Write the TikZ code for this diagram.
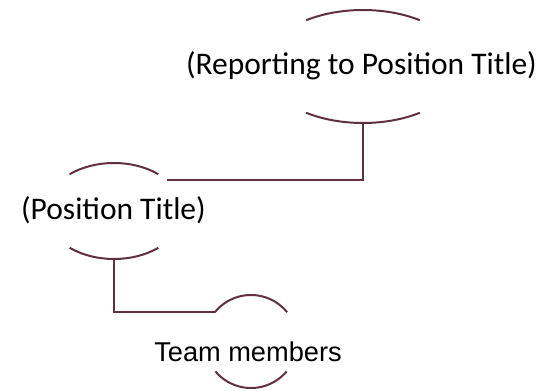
\documentclass[tikz,border=0pt]{standalone}
\usepackage{fontspec}
\setmainfont{Carlito}
\newfontfamily\arialfont{Liberation Sans}
\usepackage{xcolor}
\usetikzlibrary{shapes.geometric}
\definecolor{chartline}{RGB}{96,48,64}

\begin{document}
\begin{tikzpicture}[x=0.75pt,y=-0.75pt]
  \tikzstyle{chart line}=[draw=chartline, line width=1.5pt]
  \tikzstyle{title text}=[font=\fontsize{23.6}{28}\selectfont, inner sep=0pt]
  \tikzstyle{member text}=[font=\arialfont\fontsize{20.4}{24}\selectfont, inner sep=0pt]
  \tikzstyle{oval}=[ellipse, draw=none, inner sep=0pt]

  \useasboundingbox (0,0) rectangle (545,391);

  % ovals (only their top and bottom arcs are seen)
  \node [oval, minimum width=148.5pt, minimum height=84.75pt] (rptoval) at (363,66.5) {};
  \node [oval, minimum width=103.5pt, minimum height=72pt] (posoval) at (114,211) {};
  \node [oval, minimum width=69.75pt, minimum height=69.75pt] (teamoval) at (251,341.5) {};

  \draw [chart line] ([shift={(235:99 and 56.5)}]rptoval.center) arc[start angle=235, end angle=305, x radius=99, y radius=56.5];
  \draw [chart line] ([shift={(55:99 and 56.5)}]rptoval.center) arc[start angle=55, end angle=125, x radius=99, y radius=56.5];

  \draw [chart line] ([shift={(230:69 and 48)}]posoval.center) arc[start angle=230, end angle=310, x radius=69, y radius=48];
  \draw [chart line] ([shift={(50:69 and 48)}]posoval.center) arc[start angle=50, end angle=130, x radius=69, y radius=48];

  \draw [chart line] ([shift={(219:46.5)}]teamoval.center) arc[start angle=219, end angle=321, radius=46.5];
  \draw [chart line] ([shift={(40:46.5)}]teamoval.center) arc[start angle=40, end angle=140, radius=46.5];

  % texts
  \node [title text] (rpt) at (361.5,65.5) {(Reporting to Position Title)};
  \node [title text] (pos) at (113.5,210.5) {(Position Title)};
  \node [member text] (team) at (248,351.5) {Team members};

  % connectors
  \draw [chart line] (rptoval.south) |- (posoval.30);
  \draw [chart line] (posoval.south) |- (teamoval.141);
\end{tikzpicture}
\end{document}
